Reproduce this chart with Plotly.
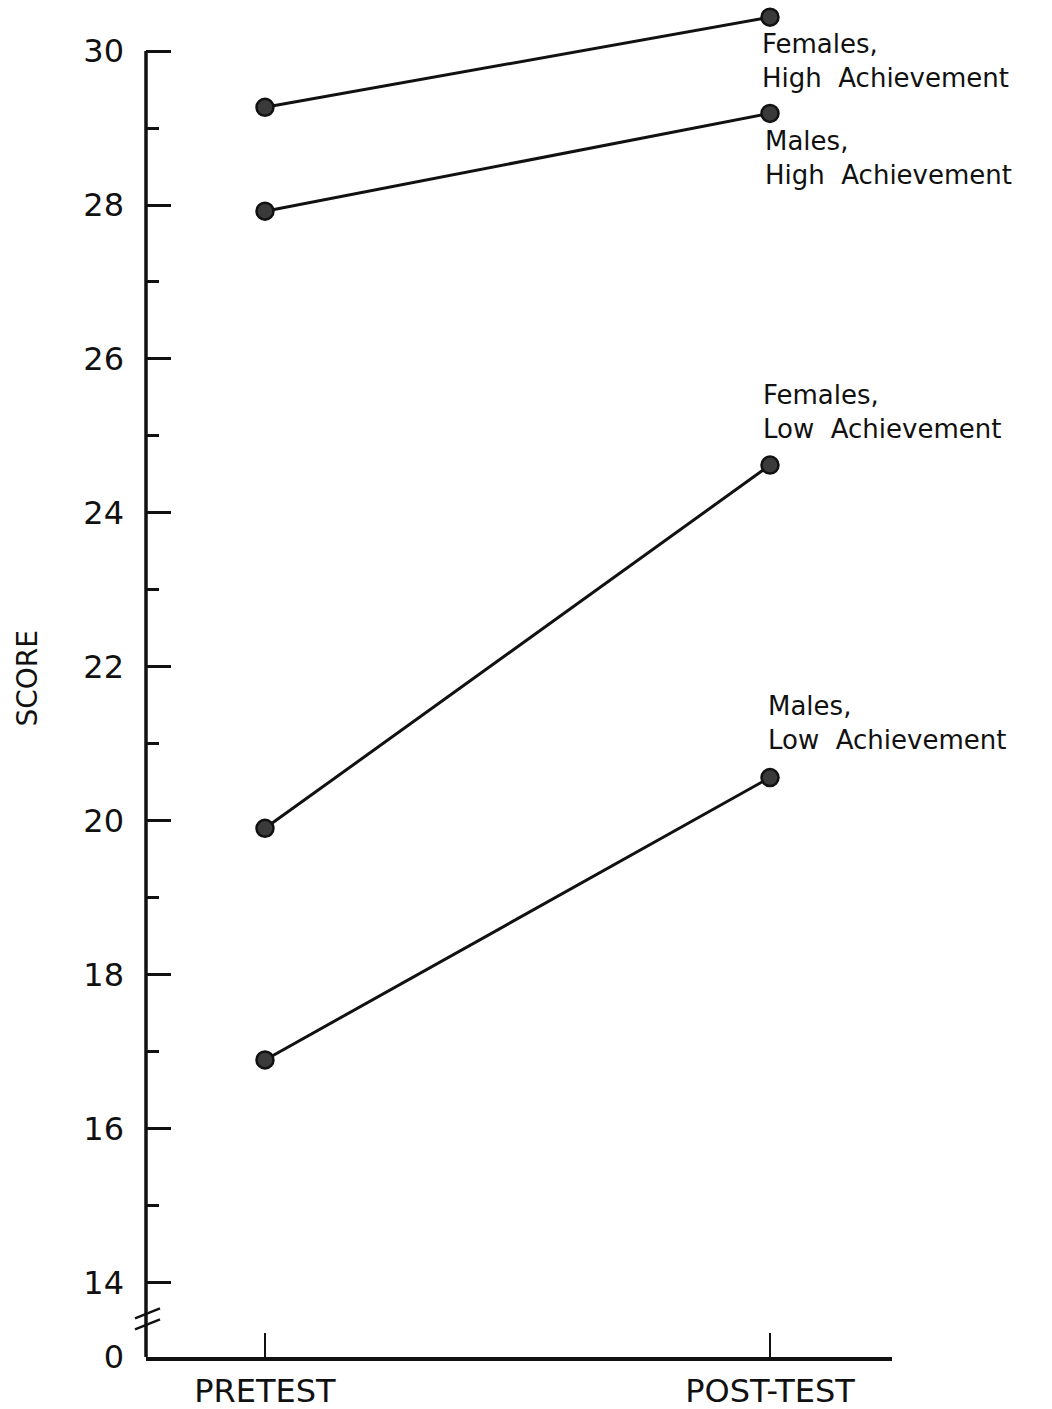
import plotly.graph_objects as go

# ---- data ----
phases = ["PRETEST", "POST-TEST"]
females_high = [29.27, 30.44]
males_high = [27.92, 29.19]
females_low = [19.90, 24.62]
males_low = [16.89, 20.56]

series = [females_high, males_high, females_low, males_low]
labels = ["Females,<br>High  Achievement",
          "Males,<br>High  Achievement",
          "Females,<br>Low  Achievement",
          "Males,<br>Low  Achievement"]

y_major = [14, 16, 18, 20, 22, 24, 26, 28, 30]
y_minor = [15, 17, 19, 21, 23, 25, 27, 29]
break_value = 13.03          # where the broken axis shows "0"
y_top = 30.56

FONT = "DejaVu Sans"
INK = "#111111"

fig = go.Figure()
for vals in series:
    fig.add_trace(go.Scatter(
        x=phases, y=vals, mode="lines+markers",
        line=dict(color=INK, width=3),
        marker=dict(size=17, color="#3a3a3a", line=dict(color=INK, width=2.5)),
        cliponaxis=False, showlegend=False, hoverinfo="skip"))

# label placement (pixel offsets relative to the post-test point)
offsets = [(-10, -44), (-7, -45), (-9, 53), (-4, 55)]
for vals, txt, (dx, dy) in zip(series, labels, offsets):
    fig.add_annotation(
        x=phases[1], y=vals[1], xref="x", yref="y",
        text=txt, showarrow=False, xanchor="left", yanchor="middle",
        align="left", xshift=dx, yshift=dy,
        font=dict(family=FONT, size=26, color=INK))

# y-axis title
fig.add_annotation(
    x=0, y=0.5, xref="paper", yref="paper", text="SCORE", textangle=-90,
    showarrow=False, xanchor="center", yanchor="middle", xshift=-119, yshift=4,
    font=dict(family=FONT, size=28, color=INK))

# vertical axis line (only up to 30)
fig.add_shape(type="line", xref="paper", yref="y", x0=0, x1=0,
              y0=break_value, y1=30, line=dict(color=INK, width=3.5))
# axis-break marks
for yoff in (6, -5):
    fig.add_shape(type="line", xref="paper", yref="y",
                  xsizemode="pixel", xanchor=0, x0=-11, x1=14,
                  ysizemode="pixel", yanchor=13.52, y0=yoff - 5, y1=yoff + 5,
                  line=dict(color=INK, width=2.5))

fig.update_xaxes(
    type="category", range=[-0.2356, 1.2416], automargin=False,
    showline=True, linecolor=INK, linewidth=3.5,
    ticks="inside", ticklen=24, tickwidth=2, tickcolor=INK,
    showgrid=False, zeroline=False,
    tickfont=dict(family=FONT, size=32, color=INK),
    ticklabelstandoff=3)

fig.update_yaxes(
    range=[break_value, y_top], automargin=False,
    tickmode="array",
    tickvals=[break_value] + y_major,
    ticktext=["0"] + [str(v) for v in y_major],
    ticks="inside", ticklen=25, tickwidth=2.5, tickcolor=INK,
    minor=dict(tickmode="array", tickvals=y_minor, ticks="inside",
               ticklen=13, tickwidth=2.5, tickcolor=INK, showgrid=False),
    showline=False, showgrid=False, zeroline=False,
    tickfont=dict(family=FONT, size=32, color=INK),
    ticklabelstandoff=21)

fig.update_layout(
    width=1052, height=1409,
    margin=dict(l=146, r=160, t=8, b=52),
    paper_bgcolor="white", plot_bgcolor="white",
    font=dict(family=FONT, color=INK))

# remove the browser's default page margin so the figure fills the window
fig.write_html("out.html", config={"displayModeBar": False},
               post_script="document.body.style.margin='0';")
